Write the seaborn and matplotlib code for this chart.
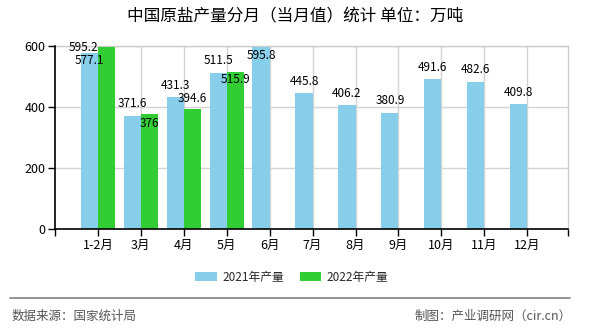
import numpy as np
import pandas as pd
import seaborn as sns
import matplotlib
matplotlib.use("Agg")
import matplotlib.pyplot as plt
from matplotlib.patches import Patch
from matplotlib.lines import Line2D

# ---- data ----
months = ['1-2月', '3月', '4月', '5月', '6月', '7月', '8月', '9月', '10月', '11月', '12月']
prod_2021 = [577.1, 371.6, 431.3, 511.5, 595.8, 445.8, 406.2, 380.9, 491.6, 482.6, 409.8]
prod_2022 = [595.2, 376, 394.6, 515.9, np.nan, np.nan, np.nan, np.nan, np.nan, np.nan, np.nan]
series_names = ['2021年产量', '2022年产量']
y_ticks = [0, 200, 400, 600]
title = '中国原盐产量分月（当月值）统计 单位：万吨'
source_text = '数据来源：国家统计局'
credit_text = '制图：产业调研网（cir.cn）'

# ---- style ----
colors = ['#87CEEB', '#32CD32']
# label offsets in pixels (dx, dy) relative to bar top centre
label_offsets_2021 = [(0, -8), (0, 12), (0, 12), (0, 12), (0, -8), (0, 12),
                      (0, 12), (0, 12), (0, 12), (0, 12), (0, 12)]
label_offsets_2022 = [(-23, 0), (0, -9), (0, 10), (0, -8)]

df = pd.DataFrame({
    'month': months * 2,
    'value': prod_2021 + prod_2022,
    'series': [series_names[0]] * len(months) + [series_names[1]] * len(months),
})

sns.set_theme(style='white')
plt.rcParams['font.family'] = ['Noto Sans CJK SC', 'DejaVu Sans']

W, H = 590, 330
fig = plt.figure(figsize=(W / 100, H / 100), dpi=100)
ax = fig.add_axes([55 / W, (H - 229) / H, (568 - 55) / W, (229 - 46) / H])

sns.barplot(data=df, x='month', y='value', hue='series', order=months,
            hue_order=series_names, palette=colors, saturation=1, width=0.8,
            ax=ax, legend=False, zorder=3, linewidth=0, edgecolor='none')

ax.set_xlim(-1, 10.95)
ax.set_ylim(0, 600)
ax.set_yticks(y_ticks)
ax.set_yticklabels([str(v) for v in y_ticks], fontsize=9)
ax.set_xticks(range(len(months)))
ax.set_xticklabels(months, fontsize=9)
ax.set_xticks([-1, 10.95], minor=True)
ax.set_xlabel('')
ax.set_ylabel('')
ax.set_axisbelow(True)
ax.yaxis.grid(True, which='major', color='#d3d3d3', linewidth=1)
ax.xaxis.grid(True, which='major', color='#d3d3d3', linewidth=1)
ax.tick_params(axis='both', which='both', length=5, width=1, color='black',
               pad=2, bottom=True, left=True, labelcolor='black')
for s in ['left', 'bottom']:
    ax.spines[s].set_color('black')
    ax.spines[s].set_linewidth(1.2)
    ax.spines[s].set_zorder(6)
for s in ['top', 'right']:
    ax.spines[s].set_color('#cccccc')
    ax.spines[s].set_linewidth(1)

# data labels
def add_labels(container, values, offsets):
    vals = [v for v in values if not (isinstance(v, float) and np.isnan(v))]
    bars = [b for b in container if not np.isnan(b.get_height()) and b.get_height() > 0]
    for bar, v, (dx, dy) in zip(bars, vals, offsets):
        x = bar.get_x() + bar.get_width() / 2
        y = bar.get_height()
        ax.annotate(f'{v:g}', (x, y), xytext=(dx, dy), textcoords='offset pixels',
                    ha='center', va='center', fontsize=8.5, color='black',
                    clip_on=False, zorder=7)

add_labels(ax.containers[0], prod_2021, label_offsets_2021)
add_labels(ax.containers[1], prod_2022, label_offsets_2022)

# title
fig.text(295 / W, 1 - 17 / H, title, ha='center', va='center', fontsize=12, color='black')

# legend
handles = [Patch(facecolor=c, edgecolor='none') for c in colors]
fig.legend(handles, series_names, loc='center', bbox_to_anchor=(292 / W, 1 - 277 / H),
           ncol=2, frameon=False, fontsize=8.5, handlelength=1.8, handleheight=0.7,
           handletextpad=0.5, columnspacing=1.3)

# footer
fig.add_artist(Line2D([10 / W, 570 / W], [1 - 298 / H] * 2, color='#808080', linewidth=1.2))
fig.text(12 / W, 1 - 316 / H, source_text, ha='left', va='center', fontsize=9, color='#555555')
fig.text(572 / W, 1 - 316 / H, credit_text, ha='right', va='center', fontsize=9, color='#555555')

fig.savefig('out.png', dpi=100)
